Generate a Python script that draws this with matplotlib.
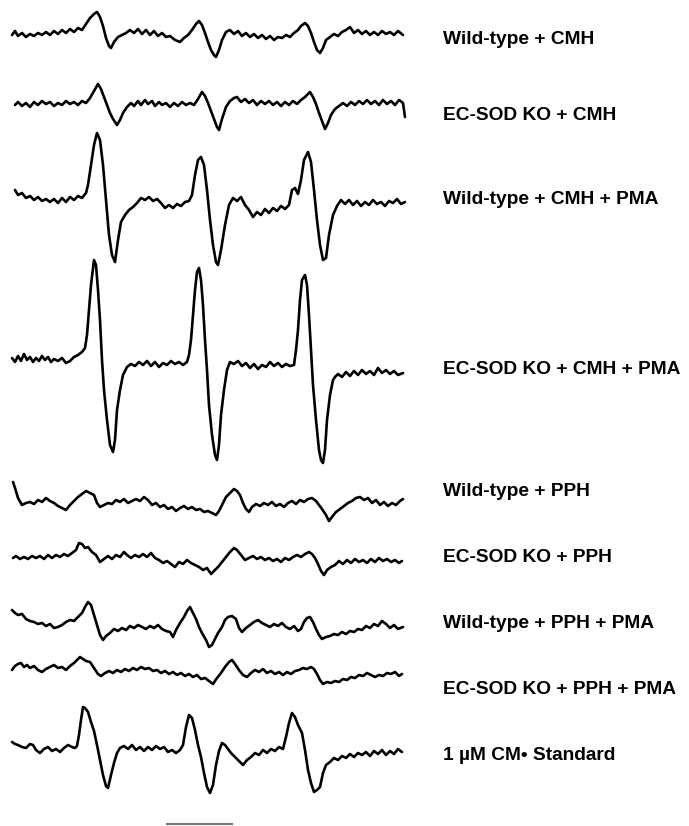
import numpy as np
import matplotlib
matplotlib.use("Agg")
import matplotlib.pyplot as plt

# sample names, top to bottom
labels = [
    "Wild-type + CMH",
    "EC-SOD KO + CMH",
    "Wild-type + CMH + PMA",
    "EC-SOD KO + CMH + PMA",
    "Wild-type + PPH",
    "EC-SOD KO + PPH",
    "Wild-type + PPH + PMA",
    "EC-SOD KO + PPH + PMA",
    "1 \u00b5M CM\u2022 Standard",
]

# spectra: (field, signal), signal up = positive
wt_cmh = [(12,1),(15,5),(18,0),(22,3),(26,-1),(30,2),(34,0),(38,3),(42,1),(46,4),(50,1),(54,5),(58,2),(62,6),
          (66,3),(70,7),(74,4),(78,8),(82,6),(86,12),(90,18),(94,22),(97,24),(100,19),(103,10),(106,-2),(109,-10),
          (111,-12),(114,-6),(118,-1),(122,1),(126,3),(130,6),(134,3),(138,7),(142,2),(146,6),(150,1),(154,5),(158,0),
          (162,3),(166,-1),(170,0),(175,-4),(180,-6),(184,-2),(188,1),(192,6),(196,12),(199,15),(202,11),(205,3),
          (208,-6),(211,-14),(214,-19),(216,-21),(219,-14),(222,-4),(226,4),(230,6),(234,2),(238,5),(242,0),(246,3),
          (250,-1),(254,2),(258,-2),(262,1),(266,-3),(270,0),(274,-4),(278,-1),(282,-2),(286,1),(290,-1),(294,3),
          (298,6),(301,10),(305,13),(308,10),(311,3),(314,-6),(317,-14),(320,-17),(323,-12),(326,-4),(330,-1),(334,2),
          (338,0),(342,4),(346,6),(350,9),(354,3),(358,6),(362,2),(366,5),(370,1),(374,4),(378,1),(382,5),(386,2),
          (390,4),(394,1),(398,5),(403,1)]

ko_cmh = [(15,0),(18,3),(22,-1),(26,2),(30,-2),(34,3),(38,0),(42,4),(46,1),(50,3),(54,-1),(58,2),(62,0),(66,4),
          (70,1),(74,3),(78,0),(82,4),(86,2),(90,7),(94,14),(98,21),(101,16),(104,8),(107,0),(110,-8),(113,-14),
          (117,-20),(120,-15),(123,-8),(127,-2),(131,2),(134,-1),(138,4),(141,0),(145,5),(148,1),(152,4),(155,-1),
          (159,3),(162,0),(166,2),(170,-2),(174,2),(178,-1),(182,3),(186,0),(190,2),(194,0),(198,6),(202,13),(205,9),
          (208,2),(211,-6),(214,-14),(217,-22),(219,-25),(222,-14),(226,-2),(230,4),(234,7),(237,8),(241,3),(245,6),
          (249,2),(253,5),(257,0),(261,4),(265,1),(269,4),(273,0),(277,3),(281,-1),(285,3),(289,0),(293,4),(297,1),
          (301,5),(305,8),(310,13),(313,8),(316,1),(319,-8),(322,-16),(325,-24),(328,-18),(331,-10),(335,-4),(339,-1),
          (343,2),(347,-1),(351,3),(355,0),(359,4),(363,1),(367,5),(371,1),(375,4),(379,0),(383,5),(387,1),(391,4),
          (395,0),(399,5),(403,2),(405,-12)]

wt_cmh_pma = [(15,10),(18,5),(22,7),(26,2),(30,4),(34,0),(38,3),(42,-1),(46,1),(50,-2),(54,1),(58,-3),(62,2),(66,-2),
              (70,3),(74,0),(78,4),(82,2),(86,7),(88,15),(91,35),(94,55),(97,67),(100,60),(103,35),(106,0),(109,-35),
              (112,-55),(115,-62),(118,-40),(121,-22),(125,-15),(129,-10),(133,-7),(137,-3),(141,2),(145,0),(149,3),
              (153,-1),(157,1),(161,-3),(165,-8),(169,-5),(173,-8),(177,-4),(181,-6),(185,-2),(189,-1),(192,5),(195,25),
              (198,40),(201,43),(204,35),(207,10),(210,-20),(213,-45),(216,-62),(218,-65),(221,-50),(225,-25),(229,-5),
              (233,2),(237,-1),(241,3),(245,-5),(249,-10),(253,-17),(257,-12),(261,-15),(265,-9),(269,-13),(273,-8),
              (277,-11),(281,-6),(285,-9),(289,-5),(292,10),(295,12),(298,6),(301,20),(304,40),(308,48),(311,38),
              (314,10),(317,-20),(320,-45),(323,-60),(326,-58),(329,-35),(333,-15),(337,-6),(341,0),(345,-4),(349,0),
              (353,-5),(357,-1),(361,-6),(365,-2),(369,-5),(373,0),(377,-4),(381,-2),(385,-6),(389,-1),(393,-3),
              (397,1),(401,-4),(405,-2)]

ko_cmh_pma = [(12,2),(15,-2),(18,4),(21,-1),(24,6),(27,0),(30,3),(33,-2),(36,2),(39,-1),(42,4),(45,0),(48,3),(51,-2),
              (54,1),(58,-1),(62,2),(66,-3),(70,-1),(74,3),(78,5),(82,8),(85,12),(87,25),(89,50),(91,75),(94,100),
              (96,95),(98,70),(100,40),(102,0),(104,-30),(107,-60),(110,-85),(113,-92),(115,-80),(117,-50),(120,-30),
              (123,-15),(127,-7),(131,-4),(135,-6),(139,-2),(143,-5),(147,-1),(151,-6),(155,-2),(159,-7),(163,-3),
              (167,-5),(171,-1),(175,-4),(179,-2),(183,-5),(187,-2),(189,5),(191,20),(193,45),(195,70),(197,88),
              (199,92),(201,80),(203,55),(205,20),(207,-10),(209,-45),(212,-75),(215,-95),(217,-100),(219,-85),
              (221,-55),(224,-30),(227,-10),(230,-2),(234,-4),(238,-1),(242,-6),(246,-3),(250,-8),(254,-4),(258,-9),
              (262,-5),(266,-7),(270,-2),(274,-6),(278,-3),(282,-7),(286,-4),(290,-6),(294,-5),(296,10),(298,30),
              (300,60),(302,80),(305,85),(307,75),(309,45),(311,10),(313,-25),(316,-60),(319,-90),(321,-100),
              (323,-103),(325,-90),(327,-60),(330,-35),(333,-20),(335,-17),(338,-14),(342,-17),(346,-12),(350,-16),
              (354,-11),(358,-15),(362,-10),(366,-14),(370,-11),(374,-15),(378,-8),(382,-13),(386,-10),(390,-14),
              (394,-11),(398,-15),(403,-13)]

wt_pph = [(13,21),(15,15),(18,5),(22,-2),(26,0),(30,1),(34,-1),(38,3),(42,1),(46,5),(50,2),(54,0),(58,-3),(62,-5),
          (66,-7),(70,-2),(74,2),(78,6),(82,9),(86,12),(90,10),(94,8),(97,0),(100,-4),(104,-2),(108,0),(112,-1),
          (116,3),(120,1),(124,4),(128,0),(132,2),(136,4),(140,2),(144,6),(148,3),(152,-2),(156,0),(160,-4),(164,-2),
          (168,-6),(172,-4),(176,-8),(180,-5),(184,-3),(188,-6),(192,-4),(196,-7),(200,-6),(204,-9),(208,-8),
          (212,-10),(216,-12),(219,-8),(222,-2),(226,6),(230,10),(234,14),(237,12),(240,8),(243,0),(246,-6),(249,-9),
          (252,-4),(256,-1),(260,-3),(264,0),(268,-2),(272,1),(276,-3),(280,-1),(284,-4),(288,0),(292,2),(296,-1),
          (300,3),(304,1),(308,4),(312,5),(316,2),(319,-2),(322,-6),(326,-12),(329,-18),(332,-14),(336,-9),(340,-6),
          (344,-3),(348,0),(352,2),(356,5),(360,6),(364,3),(368,5),(372,0),(376,3),(380,-2),(384,1),(388,-3),(392,0),
          (396,-2),(400,2),(403,4)]

ko_pph = [(13,0),(16,2),(20,-1),(24,1),(28,-1),(32,2),(36,0),(40,2),(44,-1),(48,3),(52,0),(56,3),(60,1),(64,4),
          (68,2),(72,5),(76,8),(79,15),(82,14),(85,10),(88,11),(92,6),(96,3),(100,-4),(104,-1),(108,2),(112,-1),
          (116,3),(120,1),(124,6),(127,3),(131,0),(135,3),(139,1),(143,4),(147,1),(151,5),(155,0),(159,-2),(163,-5),
          (167,-3),(171,-6),(175,-9),(179,-4),(183,-6),(187,-2),(191,-5),(195,-7),(199,-9),(203,-12),(207,-10),
          (211,-16),(214,-13),(218,-9),(222,-4),(226,1),(230,6),(234,10),(237,8),(241,3),(245,-2),(249,0),(253,2),
          (257,-1),(261,1),(265,-2),(269,0),(273,-3),(277,-1),(281,-4),(285,0),(289,-2),(293,1),(297,3),(301,1),
          (305,4),(309,6),(312,4),(315,0),(318,-6),(321,-13),(324,-17),(327,-12),(331,-9),(335,-7),(339,-3),(343,-6),
          (347,-2),(351,-5),(355,-1),(359,-4),(363,-2),(367,-5),(371,-1),(375,-4),(379,0),(383,-3),(387,-1),(391,-4),
          (395,-2),(399,-5),(402,-3)]

wt_pph_pma = [(12,15),(15,12),(18,10),(22,11),(26,6),(30,4),(34,3),(38,1),(42,2),(46,-1),(50,1),(54,-3),(58,-2),
              (62,0),(66,3),(70,5),(74,4),(78,8),(82,12),(85,18),(88,23),(91,20),(94,10),(97,0),(100,-10),(103,-15),
              (106,-11),(110,-8),(114,-4),(118,-6),(122,-3),(126,-5),(130,-1),(134,-3),(138,0),(142,-2),(146,-4),
              (150,-1),(154,-3),(158,0),(162,-4),(166,-6),(170,-7),(173,-12),(176,-5),(180,2),(184,8),(187,14),
              (190,18),(193,12),(196,6),(199,-2),(202,-8),(206,-15),(209,-22),(212,-20),(215,-14),(218,-8),(222,-2),
              (225,5),(228,8),(232,9),(236,6),(239,-3),(242,-7),(246,-3),(250,0),(254,3),(258,5),(262,2),(266,0),
              (270,-2),(274,1),(278,-1),(282,2),(286,-2),(290,-4),(294,-1),(298,-6),(301,-4),(304,3),(307,7),(310,8),
              (313,3),(316,-4),(319,-10),(322,-14),(326,-12),(330,-11),(334,-9),(338,-10),(342,-7),(346,-9),(350,-6),
              (354,-7),(358,-4),(362,-5),(366,-1),(370,-3),(374,1),(378,-1),(382,4),(386,1),(390,-3),(394,0),(398,-4),
              (403,-2)]

ko_pph_pma = [(12,0),(15,4),(18,6),(21,7),(24,3),(27,5),(30,2),(34,4),(38,0),(42,-2),(46,1),(50,3),(54,5),(58,2),
              (62,3),(66,0),(70,4),(74,7),(77,10),(80,13),(83,11),(86,9),(90,8),(94,2),(98,-4),(101,-6),(105,-3),
              (109,-1),(113,-3),(117,0),(121,-2),(125,1),(129,-1),(133,2),(137,0),(141,3),(145,1),(149,2),(153,-1),
              (157,0),(161,-3),(165,-1),(169,-4),(173,-2),(177,-5),(181,-3),(185,-6),(189,-4),(193,-7),(197,-5),
              (201,-9),(205,-8),(209,-11),(213,-14),(217,-8),(221,-3),(225,3),(229,8),(232,10),(235,6),(239,0),
              (243,-5),(247,-7),(251,-3),(255,0),(259,-2),(263,1),(267,-3),(271,-1),(275,-4),(279,-2),(283,-5),
              (287,-2),(291,-4),(295,-1),(299,0),(303,2),(307,1),(311,3),(314,1),(317,-4),(320,-10),(323,-14),
              (327,-12),(331,-13),(335,-11),(339,-12),(343,-9),(347,-10),(351,-7),(355,-8),(359,-5),(363,-6),(367,-3),
              (371,-5),(375,-7),(379,-5),(383,-6),(387,-3),(391,-4),(395,-2),(399,-6),(402,-4)]

cm_standard = [(12,3),(15,1),(18,0),(22,-2),(26,-3),(30,1),(33,0),(36,-5),(40,-8),(44,-4),(48,-2),(52,-6),(56,-4),
               (60,-7),(64,-3),(68,0),(72,-2),(75,-3),(77,-1),(79,10),(81,25),(83,38),(85,37),(88,33),(91,23),(94,14),
               (97,0),(100,-15),(103,-30),(106,-41),(108,-43),(111,-30),(114,-18),(117,-8),(120,-3),(124,-1),(128,-4),
               (132,0),(136,-5),(140,-2),(144,-6),(148,-2),(152,-5),(156,-1),(160,-4),(164,-2),(168,-7),(172,-5),
               (176,-8),(180,-5),(183,0),(186,18),(189,30),(192,27),(195,15),(198,0),(201,-12),(204,-28),(207,-42),
               (210,-48),(213,-40),(216,-20),(219,-6),(222,2),(225,0),(228,-4),(231,-8),(235,-12),(239,-16),(243,-20),
               (247,-15),(251,-12),(255,-8),(259,-10),(263,-5),(267,-8),(271,-4),(275,-6),(279,-2),(283,-4),(286,8),
               (289,22),(292,32),(295,28),(298,20),(302,12),(305,-5),(308,-25),(311,-38),(314,-47),(317,-45),(320,-42),
               (323,-28),(326,-20),(330,-17),(334,-13),(338,-15),(342,-11),(346,-13),(350,-9),(354,-12),(358,-8),
               (362,-10),(366,-7),(370,-11),(374,-6),(378,-9),(382,-5),(386,-10),(390,-6),(394,-9),(398,-4),(402,-7)]

spectra = [wt_cmh, ko_cmh, wt_cmh_pma, ko_cmh_pma, wt_pph, ko_pph, wt_pph_pma, ko_pph_pma, cm_standard]

scale_bar = 65  # field units

# layout (pixels of the 689x826 canvas)
baselines = [36, 105, 200, 360, 503, 558, 625, 670, 745]
label_y = [40, 116, 200, 370, 492, 557, 623, 690, 755]
label_x = 443

fig = plt.figure(figsize=(6.89, 8.26), dpi=100)
ax = fig.add_axes([0, 0, 1, 1])
ax.set_xlim(0, 689)
ax.set_ylim(826, 0)
ax.axis("off")

for spec, base in zip(spectra, baselines):
    arr = np.array(spec, dtype=float)
    ax.plot(arr[:, 0], base - arr[:, 1], color="black", lw=1.9,
            solid_joinstyle="round", solid_capstyle="round")

for text, y in zip(labels, label_y):
    ax.text(label_x, y, text, fontsize=13.8, fontweight="bold",
            family=["Liberation Sans", "DejaVu Sans"], va="center", ha="left")

ax.plot([167, 167 + scale_bar], [824, 824], color="#777777", lw=1.5)

fig.savefig("out.png", dpi=100)
